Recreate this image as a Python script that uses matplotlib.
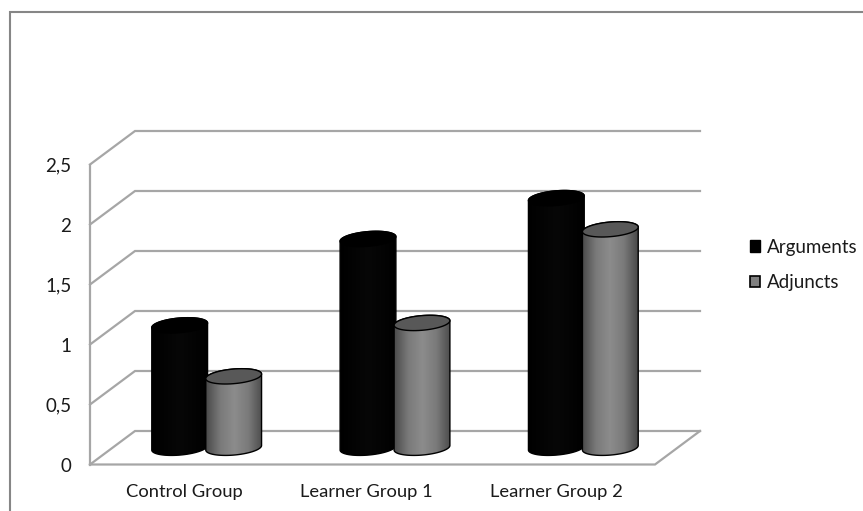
# grouped cylinder chart with a 3D style wall and floor
import numpy as np
import matplotlib
matplotlib.use('Agg')
import matplotlib.pyplot as plt
from matplotlib.lines import Line2D
from matplotlib.patches import Patch, PathPatch
from matplotlib.path import Path
from matplotlib.colors import LinearSegmentedColormap

plt.rcParams['font.family'] = ['Lato', 'DejaVu Sans']

groups = ['Control Group', 'Learner Group 1', 'Learner Group 2']
arguments = [1.02, 1.74, 2.08]
adjuncts = [0.595, 1.04, 1.82]
y_ticks = [0, 0.5, 1, 1.5, 2, 2.5]
y_tick_labels = ['0', '0,5', '1', '1,5', '2', '2,5']

W, H = 863, 511
fig = plt.figure(figsize=(W / 100, H / 100), dpi=100)

# front plane of the plot box, in pixels
left, right, bottom, top = 90, 655, 464.5, 164.5
ax = fig.add_axes([left / W, 1 - bottom / H, (right - left) / W, (bottom - top) / H])
ax.set_xlim(0, 3)
ax.set_ylim(0, 2.5)
for s in ax.spines.values():
    s.set_visible(False)

# size of one pixel in data units
px_x = 3 / (right - left)
px_y = 2.5 / (bottom - top)
depth_x = 45 * px_x
depth_y = 33.5 * px_y

# outer border of the chart, open on the right
border_x = [10 / W, 10 / W, 1]
border_y = [0, 1 - 12 / H, 1 - 12 / H]
fig.add_artist(Line2D(border_x, border_y, transform=fig.transFigure, color='#868686', lw=1.5,
                      solid_joinstyle='miter'))

# back wall lines and their slanted connections
grid_col = '#a6a6a6'
for v in y_ticks:
    ax.plot([0, depth_x, 3 + depth_x], [v, v + depth_y, v + depth_y], color=grid_col, lw=1.6,
            clip_on=False, zorder=1, solid_joinstyle='miter')
ax.plot([0, 0], [0, 2.5], color=grid_col, lw=1.6, clip_on=False, zorder=1)
# floor edge
ax.plot([0, 3, 3 + depth_x], [0, 0, depth_y], color=grid_col, lw=1.6,
        clip_on=False, zorder=1, solid_joinstyle='miter')

gray_side = LinearSegmentedColormap.from_list('gray_side', ['#4a4a4a', '#7a7a7a', '#8c8c8c', '#7a7a7a', '#4a4a4a'])
black_side = LinearSegmentedColormap.from_list('black_side', ['#000000', '#070707', '#000000'])


def ellipse_pts(cx, cy, start, stop):
    # tilted ellipse outline in data units
    a, b, tilt = 28.0, 7.3, np.radians(5)
    t = np.radians(np.linspace(start, stop, 60))
    x = a * np.cos(t) * np.cos(tilt) - b * np.sin(t) * np.sin(tilt)
    y = a * np.cos(t) * np.sin(tilt) + b * np.sin(t) * np.cos(tilt)
    return np.column_stack([cx + x * px_x, cy + y * px_y])


def cylinder(x_mid, value, cmap, top_col, edge, z):
    base_y = depth_y / 2
    top_y = base_y + value
    lower = ellipse_pts(x_mid, base_y, 180, 360)
    upper = ellipse_pts(x_mid, top_y, 0, 180)
    body = np.vstack([lower, upper, lower[:1]])
    path = Path(body, closed=True)
    patch = PathPatch(path, facecolor='none', edgecolor=edge, lw=1.0, zorder=z + 0.2, clip_on=False)
    ax.add_patch(patch)
    shade = ax.imshow(np.linspace(0, 1, 128).reshape(1, -1), cmap=cmap, aspect='auto', vmin=0, vmax=1,
                      extent=[x_mid - 28 * px_x, x_mid + 28 * px_x, base_y - 12 * px_y, top_y + 12 * px_y],
                      zorder=z, clip_on=True)
    shade.set_clip_path(PathPatch(path, transform=ax.transData))
    lid = ellipse_pts(x_mid, top_y, 0, 360)
    ax.fill(lid[:, 0], lid[:, 1], facecolor=top_col, edgecolor=edge, lw=1.0, zorder=z + 0.3, clip_on=False)


offset = 27 * px_x
for i in range(len(groups)):
    mid = i + 0.5 + depth_x / 2
    cylinder(mid - offset, arguments[i], black_side, '#000000', '#000000', 3)
    cylinder(mid + offset, adjuncts[i], gray_side, '#585858', '#000000', 4)

ax.set_xlim(0, 3)
ax.set_ylim(0, 2.5)

# category labels sit a little left of the group centres
label_shift = [0.0, -0.035, -0.025]
ax.set_yticks(y_ticks)
ax.set_yticklabels(y_tick_labels)
ax.set_xticks([i + 0.5 + label_shift[i] for i in range(len(groups))])
ax.set_xticklabels(groups)
ax.tick_params(axis='y', length=0, pad=13.5, labelsize=13.5, labelcolor='#1a1a1a')
ax.tick_params(axis='x', length=0, pad=14, labelsize=13.2, labelcolor='#1a1a1a')

handles = [Patch(facecolor='#000000', edgecolor='#000000', label='Arguments'),
           Patch(facecolor='#808080', edgecolor='#000000', linewidth=1.2, label='Adjuncts')]
ax.legend(handles=handles, loc='center left',
          bbox_to_anchor=((750 - left) / (right - left), (bottom - 265) / (bottom - top)),
          frameon=False, fontsize=13.5, handlelength=0.53, handleheight=0.55, handletextpad=0.37,
          labelspacing=1.0, borderpad=0, borderaxespad=0, labelcolor='#1a1a1a')

fig.savefig('out.png', dpi=100)
